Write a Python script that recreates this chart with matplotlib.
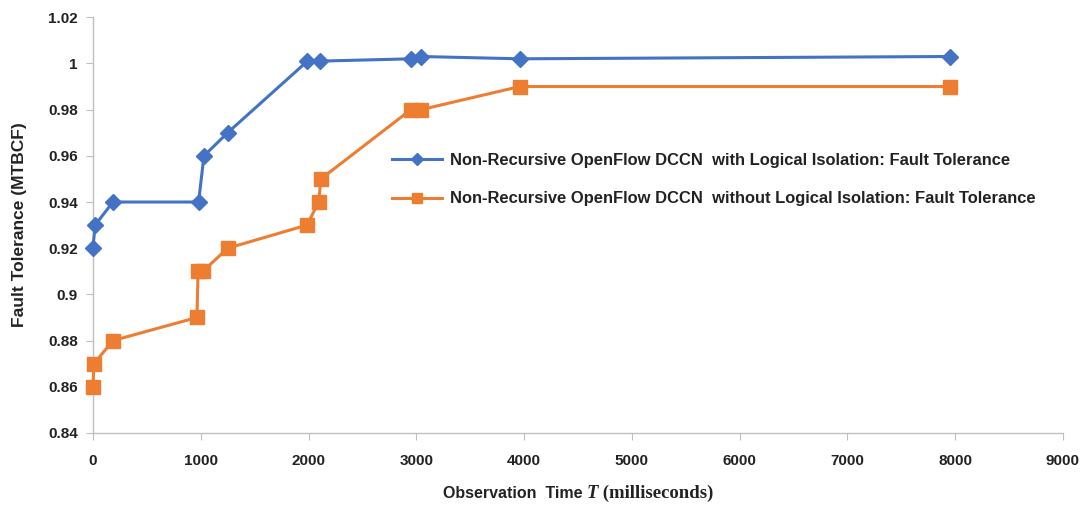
import matplotlib
matplotlib.use("Agg")
import matplotlib.pyplot as plt
from matplotlib.offsetbox import TextArea, HPacker, AnchoredOffsetbox

# Observation times (ms) and fault tolerance values
time_with = [0, 20, 185, 980, 1030, 1250, 1990, 2105, 2950, 3040, 3960, 7950]
ft_with = [0.92, 0.93, 0.94, 0.94, 0.96, 0.97, 1.001, 1.001, 1.002, 1.003, 1.002, 1.003]

time_without = [0, 10, 185, 965, 975, 1020, 1250, 1985, 2095, 2115, 2950, 3045, 3960, 7950]
ft_without = [0.86, 0.87, 0.88, 0.89, 0.91, 0.91, 0.92, 0.93, 0.94, 0.95, 0.98, 0.98, 0.99, 0.99]

label_with = "Non-Recursive OpenFlow DCCN  with Logical Isolation: Fault Tolerance"
label_without = "Non-Recursive OpenFlow DCCN  without Logical Isolation: Fault Tolerance"

x_ticks = [0, 1000, 2000, 3000, 4000, 5000, 6000, 7000, 8000, 9000]
y_ticks = [0.84, 0.86, 0.88, 0.90, 0.92, 0.94, 0.96, 0.98, 1.00, 1.02]
y_tick_labels = ["0.84", "0.86", "0.88", "0.9", "0.92", "0.94", "0.96", "0.98", "1", "1.02"]

BLUE = "#4472C4"
ORANGE = "#ED7D31"
SANS = "Liberation Sans"
INK = "#222222"

fig = plt.figure(figsize=(10.91, 5.07), dpi=100)
ax = fig.add_axes([0.0852, 0.146, 0.8891, 0.820])

ax.plot(time_with, ft_with, color=BLUE, lw=2.2, marker="D", ms=8.5,
        label=label_with, zorder=3, clip_on=False)
ax.plot(time_without, ft_without, color=ORANGE, lw=2.2, marker="s", ms=9.5,
        label=label_without, zorder=3, clip_on=False)

ax.set_xlim(0, 9000)
ax.set_ylim(0.84, 1.02)
ax.set_xticks(x_ticks)
ax.set_xticklabels([str(v) for v in x_ticks])
ax.set_yticks(y_ticks)
ax.set_yticklabels(y_tick_labels)

for lab in ax.get_xticklabels() + ax.get_yticklabels():
    lab.set_fontfamily(SANS)
    lab.set_fontweight("bold")
    lab.set_fontsize(11)
    lab.set_color(INK)

ax.tick_params(axis="x", length=5, color="#BFBFBF", pad=10)
ax.tick_params(axis="y", length=5, color="#BFBFBF", pad=6)

for side in ("top", "right"):
    ax.spines[side].set_visible(False)
for side in ("left", "bottom"):
    ax.spines[side].set_color("#BFBFBF")
    ax.spines[side].set_linewidth(1.0)

ax.set_ylabel("Fault Tolerance (MTBCF)", fontfamily=SANS, fontweight="bold",
              fontsize=12.5, color=INK)
ax.yaxis.set_label_coords(-0.068, 0.5)

# x-axis title built from mixed fonts
parts = [
    TextArea("Observation  Time ", textprops=dict(fontfamily=SANS, fontweight="bold",
                                                   fontsize=11.5, color=INK)),
    TextArea("T", textprops=dict(fontfamily="Liberation Serif", fontstyle="italic",
                                 fontweight="bold", fontsize=13.5, color=INK)),
    TextArea(" (milliseconds)", textprops=dict(fontfamily="Liberation Serif",
                                                fontweight="bold", fontsize=13.5,
                                                color=INK)),
]
box = HPacker(children=parts, align="baseline", pad=0, sep=0)
anchored = AnchoredOffsetbox(loc="center", child=box, frameon=False,
                             bbox_to_anchor=(0.53, 0.027),
                             bbox_transform=fig.transFigure, pad=0, borderpad=0)
fig.add_artist(anchored)

leg = ax.legend(loc="upper left", bbox_to_anchor=(0.293, 0.71), frameon=False,
                prop=dict(family=SANS, weight="bold", size=11.9),
                handlelength=3.0, labelspacing=1.43, markerscale=0.75,
                handletextpad=0.5)
for t in leg.get_texts():
    t.set_color(INK)

fig.savefig("out.png", dpi=100)
